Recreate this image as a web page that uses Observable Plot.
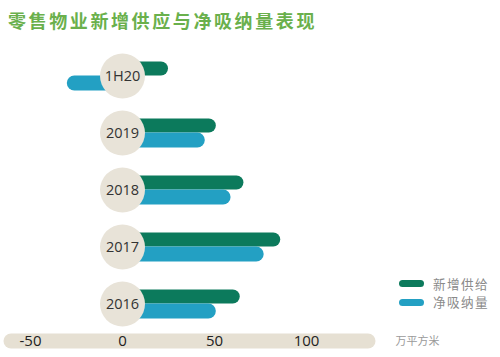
<!DOCTYPE html>
<html>
<head>
<meta charset="utf-8">
<script src="https://cdn.jsdelivr.net/npm/d3@7"></script>
<script src="https://cdn.jsdelivr.net/npm/@observablehq/plot@0.6"></script>
<style>
  html, body { margin: 0; padding: 0; background: #fff; }
  #wrap { position: relative; width: 500px; height: 357px; overflow: hidden; }
  #title { height: 40px; box-sizing: border-box; padding: 10px 0 0 8px; font-family: "Noto Sans CJK SC", sans-serif; font-weight: 700; font-size: 18px; letter-spacing: 2.6px; color: #6ab04c; line-height: 20px; white-space: nowrap; }
  #legend { position: absolute; left: 399px; top: 274.6px; font-family: "Noto Sans CJK SC", sans-serif; font-size: 12.6px; letter-spacing: 1.4px; color: #8a8a8a; line-height: 18.6px; }
  #legend .row { display: flex; align-items: center; height: 18.6px; }
  #legend .sw { width: 25px; height: 7px; border-radius: 3.5px; margin-right: 9px; }
  svg { display: block; }
</style>
</head>
<body>
<div id="wrap">
  <div id="title">零售物业新增供应与净吸纳量表现</div>
  <div id="chart"></div>
  <div id="legend"></div>
</div>
<script>
const categories = ["1H20", "2019", "2018", "2017", "2016"];
const newSupply = [25, 51, 66, 86, 64];
const netAbsorption = [-30, 45, 59, 77, 51];
const seriesNames = ["新增供给", "净吸纳量"];
const seriesColors = ["#0c7a5c", "#23a0c3"];
const xTicks = [-50, 0, 50, 100];
const unitLabel = "万平方米";

const supplyData = categories.map((c, i) => ({cat: c, value: newSupply[i]}));
const absorbData = categories.map((c, i) => ({cat: c, value: netAbsorption[i]}));

const chart = Plot.plot({
  width: 500,
  height: 317,
  marginLeft: 3,
  marginRight: 125,
  marginTop: 293,
  marginBottom: 9,
  style: {background: "transparent", overflow: "visible"},
  x: {domain: [-60, 140], range: [11.6, 379.6], axis: null},
  y: {type: "band", domain: categories, range: [6.5, 291.5], padding: 0, axis: null},
  marks: [
    Plot.frame({fill: "#e6e0d3", stroke: null, rx: 7.5}),
    Plot.text(xTicks, {x: d => d, frameAnchor: "middle", text: d => String(d), fontSize: 15, fill: "#222", fontFamily: "Open Sans, sans-serif", dy: 0.5}),
    Plot.text([unitLabel], {frameAnchor: "right", dx: 20, textAnchor: "start", text: d => d, fontSize: 11, fill: "#9a9a9a", fontFamily: "Noto Sans CJK SC, sans-serif"}),
    Plot.barX(supplyData, {y: "cat", x: "value", fill: seriesColors[0], insetTop: 14.5, insetBottom: 28.5, rx: 7}),
    Plot.barX(absorbData, {y: "cat", x: "value", fill: seriesColors[1], insetTop: 28.5, insetBottom: 13.5, rx: 7.5}),
    Plot.dot(categories, {x: () => 0, y: d => d, r: 22.5, fill: "#e8e3d8", stroke: null}),
    Plot.text(categories, {x: () => 0, y: d => d, text: d => d, fontSize: 14.5, fill: "#333", fontFamily: "Open Sans, sans-serif"})
  ]
});
document.getElementById("chart").appendChild(chart);

const legend = document.getElementById("legend");
seriesNames.forEach((n, i) => {
  const row = document.createElement("div");
  row.className = "row";
  const sw = document.createElement("span");
  sw.className = "sw";
  sw.style.background = seriesColors[i];
  const t = document.createElement("span");
  t.textContent = n;
  row.appendChild(sw);
  row.appendChild(t);
  legend.appendChild(row);
});
</script>
</body>
</html>
